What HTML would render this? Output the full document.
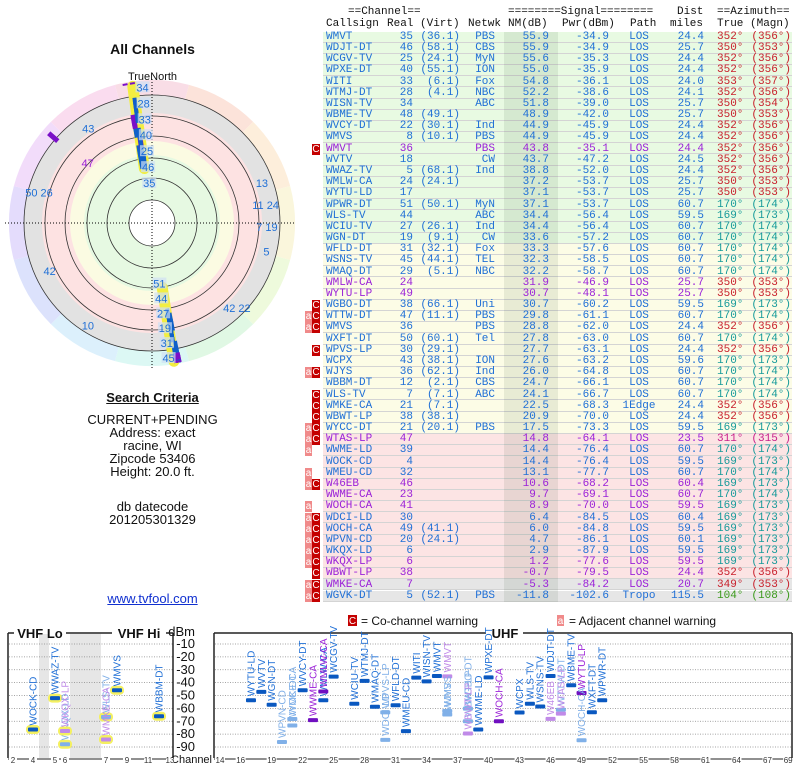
<!DOCTYPE html>
<html><head><meta charset="utf-8">
<style>
*{margin:0;padding:0;box-sizing:border-box}
body{width:800px;height:768px;background:#fff;position:relative;overflow:hidden;font-family:"Liberation Sans",sans-serif}
.abs{position:absolute}
.ctr{position:absolute;left:0;width:305px;text-align:center;font-size:13px;color:#111;line-height:13px}
#tbl{position:absolute;left:0;top:0;width:800px;height:610px;font-family:"Liberation Mono",monospace;font-size:11px}
#tbl span{position:absolute;white-space:pre;line-height:11px}
</style></head><body>
<svg id="polar" class="abs" style="left:0;top:0" width="305" height="380"></svg>
<div class="ctr" style="top:43px;font-weight:bold;font-size:14px">All Channels</div>
<div class="ctr" style="top:71px;font-size:11px">TrueNorth</div>
<div class="ctr" style="top:391px;font-weight:bold;text-decoration:underline">Search Criteria</div>
<div class="ctr" style="top:413px">CURRENT+PENDING<br>Address: exact<br>racine, WI<br>Zipcode 53406<br>Height: 20.0 ft.</div>
<div class="ctr" style="top:500px">db datecode<br>201205301329</div>
<div class="ctr" style="top:592px;color:#1030d0;text-decoration:underline">www.tvfool.com</div>
<div id="tbl"></div>
<svg id="spec" class="abs" style="left:0;top:612px" width="800" height="156"></svg>
<script>
// ---- table data ----
const calls=["WMVT","WDJT-DT","WCGV-TV","WPXE-DT","WITI","WTMJ-DT","WISN-TV","WBME-TV","WVCY-DT","WMVS","WMVT","WVTV","WWAZ-TV","WMLW-CA","WYTU-LD","WPWR-DT","WLS-TV","WCIU-TV","WGN-DT","WFLD-DT","WSNS-TV","WMAQ-DT","WMLW-CA","WYTU-LP","WGBO-DT","WTTW-DT","WMVS","WXFT-DT","WPVS-LP","WCPX","WJYS","WBBM-DT","WLS-TV","WMKE-CA","WBWT-LP","WYCC-DT","WTAS-LP","WWME-LD","WOCK-CD","WMEU-CD","W46EB","WWME-CA","WOCH-CA","WDCI-LD","WOCH-CA","WPVN-CD","WKQX-LD","WKQX-LP","WBWT-LP","WMKE-CA","WGVK-DT"];
const realCh=[35,46,25,40,33,28,34,48,22,8,36,18,5,24,17,51,44,27,19,31,45,29,24,49,38,47,36,50,30,43,36,12,7,21,38,21,47,39,4,32,46,23,41,30,49,20,6,6,38,7,5];
const virtCh=["(36.1)","(58.1)","(24.1)","(55.1)","(6.1)","(4.1)","","(49.1)","(30.1)","(10.1)","","","(68.1)","(24.1)","","(50.1)","","(26.1)","(9.1)","(32.1)","(44.1)","(5.1)","","","(66.1)","(11.1)","","(60.1)","(29.1)","(38.1)","(62.1)","(2.1)","(7.1)","(7.1)","(38.1)","(20.1)","","","","","","","","","(41.1)","(24.1)","","","","","(52.1)"];
const netwk=["PBS","CBS","MyN","ION","Fox","NBC","ABC","","Ind","PBS","PBS","CW","Ind","","","MyN","ABC","Ind","CW","Fox","TEL","NBC","","","Uni","PBS","PBS","Tel","","ION","Ind","CBS","ABC","","","PBS","","","","","","","","","","","","","","","PBS"];
const nmDb=[55.9,55.9,55.6,55.0,54.8,52.2,51.8,48.9,44.9,44.9,43.8,43.7,38.8,37.2,37.1,37.1,34.4,34.4,33.6,33.3,32.3,32.2,31.9,30.7,30.7,29.8,28.8,27.8,27.7,27.6,26.0,24.7,24.1,22.5,20.9,17.5,14.8,14.4,14.4,13.1,10.6,9.7,8.9,6.4,6.0,4.7,2.9,1.2,-0.7,-5.3,-11.8];
const pwrDbm=[-34.9,-34.9,-35.3,-35.9,-36.1,-38.6,-39.0,-42.0,-45.9,-45.9,-35.1,-47.2,-52.0,-53.7,-53.7,-53.7,-56.4,-56.4,-57.2,-57.6,-58.5,-58.7,-46.9,-48.1,-60.2,-61.1,-62.0,-63.0,-63.1,-63.2,-64.8,-66.1,-66.7,-68.3,-70.0,-73.3,-64.1,-76.4,-76.4,-77.7,-68.2,-69.1,-70.0,-84.5,-84.8,-86.1,-87.9,-77.6,-79.5,-84.2,-102.6];
const paths=["LOS","LOS","LOS","LOS","LOS","LOS","LOS","LOS","LOS","LOS","LOS","LOS","LOS","LOS","LOS","LOS","LOS","LOS","LOS","LOS","LOS","LOS","LOS","LOS","LOS","LOS","LOS","LOS","LOS","LOS","LOS","LOS","LOS","1Edge","LOS","LOS","LOS","LOS","LOS","LOS","LOS","LOS","LOS","LOS","LOS","LOS","LOS","LOS","LOS","LOS","Tropo"];
const distMi=[24.4,25.7,24.4,24.4,24.0,24.1,25.7,25.7,24.4,24.4,24.4,24.5,24.4,25.7,25.7,60.7,59.5,60.7,60.7,60.7,60.7,60.7,25.7,25.7,59.5,60.7,24.4,60.7,24.4,59.6,60.7,60.7,60.7,24.4,24.4,59.5,23.5,60.7,59.5,60.7,60.4,60.7,59.5,60.4,59.5,60.1,59.5,59.5,24.4,20.7,115.5];
const azTrue=[352,350,352,352,353,352,350,350,352,352,352,352,352,350,350,170,169,170,170,170,170,170,350,350,169,170,352,170,352,170,170,170,170,352,352,169,311,170,169,170,169,170,169,169,169,169,169,169,352,349,104];
const azMagn=[356,353,356,356,357,356,354,353,356,356,356,356,356,353,353,174,173,174,174,174,174,174,353,353,173,174,356,174,356,173,174,174,174,356,356,173,315,174,173,174,173,174,173,173,173,173,173,173,356,353,108];
const warnFlags=["","","","","","","","","","","C","","","","","","","","","","","","","","C","aC","aC","","C","","aC","","C","C","C","aC","aC","a","","a","aC","","a","aC","aC","aC","aC","aC","C","aC","aC"];
const purpleRow=[0,0,0,0,0,0,0,0,0,0,1,0,0,0,0,0,0,0,0,0,0,0,1,1,0,0,0,0,0,0,0,0,0,0,0,0,1,0,0,0,1,1,1,0,0,0,0,1,1,1,0];

const T=document.getElementById('tbl');
function sp(txt,css,color){const s=document.createElement('span');s.textContent=txt;s.style.cssText=css;if(color)s.style.color=color;T.appendChild(s);return s;}
let h=sp("==Channel==","left:348px;top:7px","#111");
h=sp("========Signal========","left:508px;top:7px","#111");
h=sp("Dist","left:677px;top:7px","#111");
h=sp("==Azimuth==","left:717px;top:7px","#111");
const hdr2=[["Callsign",326],["Real",387],["(Virt)",420],["Netwk",468],["NM(dB)",508],["Pwr(dBm)",562],["Path",630],["miles",670],["True",717],["(Magn)",750]];
hdr2.forEach(a=>{const e=sp(a[0],"left:"+a[1]+"px;top:19px","#111");});
const ROW0=31.5,RH=11.18;
function rowBg(i){if(i<19)return"#e8fae2";if(i<36)return"#fcfce6";if(i<49)return"#fce4e4";return"#e6e6e6";}
for(let i=0;i<calls.length;i++){
  const y=ROW0+i*RH;
  const bg=document.createElement('div');bg.className='abs';
  bg.style.cssText="left:323px;top:"+y+"px;width:469px;height:"+RH+"px;background:"+rowBg(i)+";border-bottom:1px solid #d4d4d4";
  
  
  T.appendChild(bg);
}
const shade=document.createElement('div');shade.className='abs';
shade.style.cssText="left:504px;top:"+ROW0+"px;width:54px;height:"+(calls.length*RH)+"px;background:rgba(0,40,0,0.08)";


T.appendChild(shade);
for(let i=0;i<calls.length;i++){
  const y=ROW0+i*RH+0.3;
  const c=purpleRow[i]?"#9b22d8":"#1f6fd6";
  const azc=azTrue[i]>300?(azTrue[i]==311?"#c8208a":"#c8202c"):(azTrue[i]>150?"#169a9a":"#3a9a1a");
  const t="top:"+y+"px;";
  let e;
  e=sp(calls[i],t+"left:326px",c);
  e=sp(String(realCh[i]),t+"right:"+(800-413)+"px",c);
  e=sp(virtCh[i],t+"right:"+(800-460)+"px",c);
  e=sp(netwk[i],t+"right:"+(800-495)+"px",c);
  e=sp(nmDb[i].toFixed(1),t+"right:"+(800-549)+"px",c);
  e=sp(pwrDbm[i].toFixed(1),t+"right:"+(800-609)+"px",c);
  e=sp(paths[i],t+"left:"+(639-paths[i].length*3.3)+"px",c);
  e=sp(distMi[i].toFixed(1),t+"right:"+(800-704)+"px",c);
  e=sp(azTrue[i]+"°",t+"left:717px",azc);
  e=sp("("+azMagn[i]+"°)",t+"right:9px",azc);
  const f=warnFlags[i];
  if(f.indexOf('C')>=0){const b=sp("C",t+"left:312px;width:8px;height:11px;background:#c40000;color:#fff;font-size:10px;text-align:center;font-family:'Liberation Sans',sans-serif");}
  if(f.indexOf('a')>=0){const b=sp("a",t+"left:305px;width:7px;height:11px;background:#f08a8a;color:#fff;font-size:10px;text-align:center;font-family:'Liberation Sans',sans-serif");}
}

// ---- polar plot ----
const NS="http://www.w3.org/2000/svg";
const P=document.getElementById('polar');
function el(par,tag,attrs){const e=document.createElementNS(NS,tag);for(const k in attrs)e.setAttribute(k,attrs[k]);par.appendChild(e);return e;}
const CX=152,CY=223,R0=143;
const sectorCols=["#f9dde6","#fce3da","#fdeedb","#faf6dc","#eefadc","#e0f8e4","#dcf8f4","#dcf0fc","#dce2fc","#e4dcfc","#f2dcfa","#fadcef"];
for(let k=0;k<12;k++){
  const a0=(k*30-15)*Math.PI/180,a1=(k*30+15)*Math.PI/180;
  const p="M"+CX+","+CY+" L"+(CX+R0*Math.sin(a0))+","+(CY-R0*Math.cos(a0))+" A"+R0+","+R0+" 0 0 1 "+(CX+R0*Math.sin(a1))+","+(CY-R0*Math.cos(a1))+"Z";
  const s=el(P,'path',{d:p,fill:sectorCols[k]});
  
  
}
const bands=[[128,"#e2e2e2"],[110,"#fde2e2"],[82,"#fbfbe2"],[68,"#e6f9e2"],[23,"#ffffff"]];
bands.forEach(b=>{const c=el(P,'circle',{cx:CX,cy:CY,r:b[0],fill:b[1]});});
[128,107,87,65,45,23].forEach(r=>{const c=el(P,'circle',{cx:CX,cy:CY,r:r,fill:"none",stroke:"#333","stroke-width":0.8});});
let ln=el(P,'line',{x1:5,y1:CY,x2:296,y2:CY,stroke:"#000","stroke-dasharray":"1,2"});
ln=el(P,'line',{x1:CX,y1:79,x2:CX,y2:368,stroke:"#000","stroke-dasharray":"1,2"});
function pol(az,r){const a=az*Math.PI/180;return[CX+r*Math.sin(a),CY-r*Math.cos(a)];}
function rScale(nm){return Math.max(50,Math.min(140,150-1.7*nm));}
// yellow highlight bands along azimuth clusters
[[352,55,138],[171,65,140]].forEach(b=>{const p1=pol(b[0],b[1]),p2=pol(b[0],b[2]);const e=el(P,'line',{x1:p1[0],y1:p1[1],x2:p2[0],y2:p2[1],stroke:"#f2ee40","stroke-width":11,"stroke-linecap":"round"});});
for(let i=0;i<calls.length;i++){
  if(distMi[i]>100)continue;
  const r=rScale(nmDb[i]);const p1=pol(azTrue[i],r),p2=pol(azTrue[i],Math.min(142,r+12));
  const col=purpleRow[i]?"#7a10c8":"#1060c8";
  const m=el(P,'line',{x1:p1[0],y1:p1[1],x2:p2[0],y2:p2[1],stroke:col,"stroke-width":purpleRow[i]?5:4});
  
  
}
const northLabels=["35","46","25","40","33","28","34"];
const southLabels=["51","44","27","19","31","45"];
function stack(list,az,r0,step){list.forEach((t,k)=>{const p=pol(az,r0+k*step);const bg=el(P,'rect',{x:p[0]-7,y:p[1]-6,width:14,height:11,fill:"#cfe0f4","fill-opacity":0.7});const tx=el(P,'text',{x:p[0],y:p[1]+4,"text-anchor":"middle","font-size":11,fill:"#1f6fd6","font-family":"Liberation Sans, sans-serif"});tx.textContent=t;});}
stack(northLabels,356,40,16);
stack(southLabels,173,61,15);
const extraLabels=["43","50 26","42","10","13","11 24","7 19","5","42 22","47"];
const extraAz=[326,285,245,212,70,81,92,104,135,313];
const extraNm=[14,11,15,7,11,13,13,10,8,40];
extraLabels.forEach((t,k)=>{
  const r=140-extraNm[k]*1.0;const q=pol(extraAz[k],r-12);
  const tx=el(P,'text',{x:q[0],y:q[1]+4,"text-anchor":"middle","font-size":11,fill:t=="47"?"#9b22d8":"#1f6fd6","font-family":"Liberation Sans, sans-serif"});
  tx.textContent=t;
  
  
});

// ---- spectrum chart ----
const S=document.getElementById('spec');
const yTicks=[-10,-20,-30,-40,-50,-60,-70,-80,-90];
const vhfTickCh=[2,4,5,6,7,9,11,13];
const uhfTickCh=[14,16,19,22,25,28,31,34,37,40,43,46,49,52,55,58,61,64,67,69];
const vhfPos={2:13,3:23,4:33,5:55,6:65,7:106,8:117,9:127,10:138,11:148,12:159,13:170};
function yS(d){return 32+(d+10)*(-1.2875);}
function xV(ch){return vhfPos[ch];}
function xU(ch){return 220+(ch-14)*10.33;}
function xCh(ch){return ch<=13?xV(ch):xU(ch);}
function L(x1,y1,x2,y2,st,w,name,dash){const e=el(S,'line',{x1:x1,y1:y1,x2:x2,y2:y2,stroke:st,"stroke-width":w});if(dash)e.setAttribute('stroke-dasharray',dash);return e;}
function R(x,y,w,hh,f,name){const e=el(S,'rect',{x:x,y:y,width:w,height:hh,fill:f});return e;}
function TX(x,y,t,o,name){const e=el(S,'text',Object.assign({x:x,y:y,"font-family":"Liberation Sans, sans-serif"},o));e.textContent=t;return e;}
R(39,22,10,124,"#e6e6e6","vhf-gap-shade");
R(70,22,31,124,"#e6e6e6","vhf-gap-shade");
yTicks.forEach(d=>{L(9,yS(d),173,yS(d),"#888",0.8,"grid-line","1,1.5");L(215,yS(d),792,yS(d),"#888",0.8,"grid-line","1,1.5");
  TX(195,yS(d)+4,String(d),{"text-anchor":"end","font-size":13,fill:"#111"},"y-tick-label");});
TX(195,24,"dBm",{"text-anchor":"end","font-size":13,fill:"#111"},"y-axis-title");
L(8,21,8,146,"#222",1.5,"vhf-frame");L(173,21,173,146,"#222",1.5,"vhf-frame");
L(8,21,14,21,"#222",1.5,"vhf-frame");L(66,21,112,21,"#222",1.5,"vhf-frame");L(166,21,173,21,"#222",1.5,"vhf-frame");
TX(40,26,"VHF Lo",{"text-anchor":"middle","font-size":13,"font-weight":"bold",fill:"#111"},"vhf-lo-title");
TX(139,26,"VHF Hi",{"text-anchor":"middle","font-size":13,"font-weight":"bold",fill:"#111"},"vhf-hi-title");
L(214,21,214,146,"#222",1.5,"uhf-frame");L(792,21,792,146,"#222",1.5,"uhf-frame");
L(214,21,486,21,"#222",1.5,"uhf-frame");L(523,21,792,21,"#222",1.5,"uhf-frame");
TX(505,26,"UHF",{"text-anchor":"middle","font-size":13,"font-weight":"bold",fill:"#111"},"uhf-title");
L(8,147,173,147,"#222",1,"x-axis-line");L(214,147,792,147,"#222",1,"x-axis-line");
TX(212,151,"Channel",{"text-anchor":"end","font-size":11,fill:"#111"},"x-axis-title");
vhfTickCh.forEach(c=>{R(xV(c)-4,146,8,10,"#fff","tick-bg");TX(xV(c),151,String(c),{"text-anchor":"middle","font-size":8,fill:"#333"},"x-tick-label");});
uhfTickCh.forEach(c=>{R(xU(c)-5,146,10,10,"#fff","tick-bg");TX(xU(c),151,String(c),{"text-anchor":"middle","font-size":8,fill:"#333"},"x-tick-label");});
R(348,3,9,11,"#c40000","legend-co-channel-swatch");TX(352.5,12,"C",{"text-anchor":"middle","font-size":10,fill:"#fff"},"legend-co-channel-icon");
TX(361,13,"= Co-channel warning",{"font-size":12,fill:"#111"},"legend-co-channel-label");
R(557,3,7,11,"#f08a8a","legend-adjacent-swatch");TX(560.5,12,"a",{"text-anchor":"middle","font-size":10,fill:"#fff"},"legend-adjacent-icon");
TX(569,13,"= Adjacent channel warning",{"font-size":12,fill:"#111"},"legend-adjacent-label");
for(let i=0;i<calls.length;i++){
  const d=pwrDbm[i];if(d<-95)continue;
  const x=xCh(realCh[i]),y=yS(d);
  const light=warnFlags[i].indexOf('C')>=0;
  const pur=purpleRow[i];
  const bar=pur?(light?"#c08ae8":"#7010c0"):(light?"#80b0e8":"#0a58c0");
  const txc=pur?(light?"#c08ae8":"#9b22d8"):(light?"#80b0e8":"#1f6fd6");
  if(realCh[i]<=13){const g=el(S,'rect',{x:x-7,y:y-4.5,width:14,height:9,rx:4,fill:"#f4f060"});}
  const b=el(S,'rect',{x:x-5,y:y-2,width:10,height:4,rx:1,fill:bar});
  
  
  const t=el(S,'text',{x:0,y:0,"font-size":10,fill:txc,"font-family":"Liberation Sans, sans-serif",transform:"translate("+(x+3.5)+","+(y-4)+") rotate(-90)"});
  t.textContent=calls[i];
  
  
}
</script>
</body></html>
